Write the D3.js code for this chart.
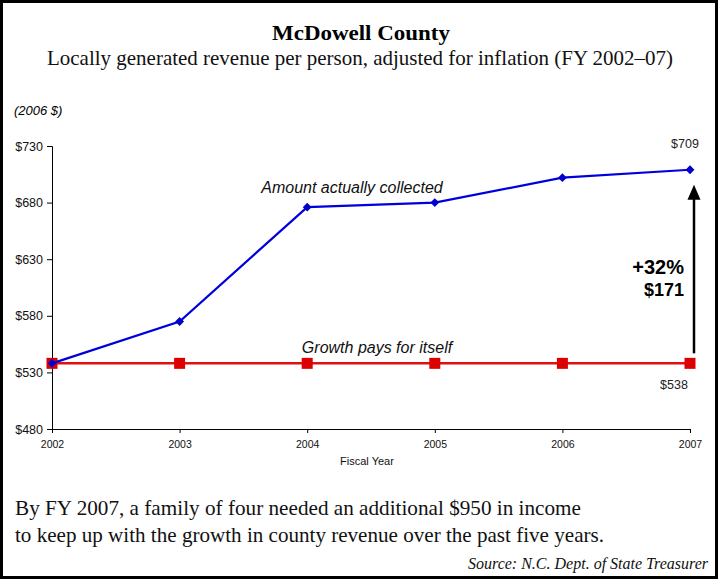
<!DOCTYPE html>
<html><head><meta charset="utf-8">
<script src="https://cdn.jsdelivr.net/npm/d3@7"></script>
<style>body{margin:0;background:#fff}svg{display:block}</style>
</head><body>
<script>
const years = [2002, 2003, 2004, 2005, 2006, 2007];
const collected = [538, 575, 676, 680, 702, 709];
const baseline = [538, 538, 538, 538, 538, 538];
const yTicks = [480, 530, 580, 630, 680, 730];

const W = 723, H = 580;
const svg = d3.select("body").append("svg").attr("width", W).attr("height", H);
svg.append("rect").attr("x", 1.5).attr("y", 1.5).attr("width", 715).attr("height", 576)
  .attr("fill", "#fff").attr("stroke", "#000").attr("stroke-width", 3);

const x = d3.scaleLinear().domain([2002, 2007]).range([52, 690]);
const y = d3.scaleLinear().domain([480, 730]).range([429, 146]);

const serif = "'Liberation Serif', 'Times New Roman', serif";
const sans = "'Liberation Sans', Arial, sans-serif";

svg.append("text").attr("x", 361).attr("y", 40).attr("text-anchor", "middle")
  .attr("font-family", serif).attr("font-weight", "bold").attr("font-size", 22)
  .attr("textLength", 178).attr("lengthAdjust", "spacingAndGlyphs").text("McDowell County");
svg.append("text").attr("x", 360).attr("y", 65).attr("text-anchor", "middle")
  .attr("font-family", serif).attr("font-size", 21).attr("fill", "#111")
  .attr("textLength", 626).attr("lengthAdjust", "spacingAndGlyphs")
  .text("Locally generated revenue per person, adjusted for inflation (FY 2002\u201307)");
svg.append("text").attr("x", 14).attr("y", 115).attr("font-family", sans).attr("font-style", "italic")
  .attr("font-size", 13).text("(2006 $)");

// axes
const yAxis = d3.axisLeft(y).tickValues(yTicks).tickSize(5).tickFormat(d => "$" + d);
const gy = svg.append("g").attr("transform", "translate(52,0)").call(yAxis);
gy.select(".domain").attr("stroke", "#000").attr("d", "M-5,146.5H0.5V429.5");
gy.selectAll("text").attr("font-family", sans).attr("font-size", 12.5).attr("fill", "#111").attr("x", -9);

const xAxis = d3.axisBottom(x).tickValues(years).tickSize(4).tickFormat(d3.format("d"));
const gx = svg.append("g").attr("transform", "translate(0,429)").call(xAxis);
gx.select(".domain").attr("d", "M52,0.5H690.5V4");
gx.selectAll("text").attr("font-family", sans).attr("font-size", 10.5).attr("fill", "#111")
  .attr("y", 19).attr("dy", 0);

svg.append("text").attr("x", 367).attr("y", 465).attr("text-anchor", "middle")
  .attr("font-family", sans).attr("font-size", 11).attr("fill", "#111").text("Fiscal Year");

// lines
const line = d3.line().x((d, i) => x(years[i])).y(d => y(d));
svg.append("path").datum(baseline).attr("d", line).attr("fill", "none")
  .attr("stroke", "#e01010").attr("stroke-width", 2.5);
svg.selectAll(".sq").data(baseline).enter().append("rect")
  .attr("x", (d, i) => x(years[i]) - 5.5).attr("y", d => y(d) - 5.5)
  .attr("width", 11).attr("height", 11).attr("fill", "#dd0000");

svg.append("path").datum(collected).attr("d", line).attr("fill", "none")
  .attr("stroke", "#0000dd").attr("stroke-width", 2.2);
svg.selectAll(".dm").data(collected).enter().append("path")
  .attr("d", d3.symbol().type(d3.symbolDiamond2).size(50))
  .attr("transform", (d, i) => `translate(${x(years[i])},${y(d)})`)
  .attr("fill", "#0000cc");

// annotations
svg.append("text").attr("x", 352).attr("y", 193).attr("text-anchor", "middle")
  .attr("font-family", sans).attr("font-style", "italic").attr("font-size", 16).attr("fill", "#111")
  .text("Amount actually collected");
svg.append("text").attr("x", 377).attr("y", 353).attr("text-anchor", "middle")
  .attr("font-family", sans).attr("font-style", "italic").attr("font-size", 16).attr("fill", "#111")
  .text("Growth pays for itself");
svg.append("text").attr("x", x(2007) - 5).attr("y", y(collected[5]) - 22).attr("text-anchor", "middle")
  .attr("font-family", sans).attr("font-size", 12.5).attr("fill", "#222").text("$" + collected[5]);
svg.append("text").attr("x", x(2007) - 16).attr("y", y(baseline[5]) + 26).attr("text-anchor", "middle")
  .attr("font-family", sans).attr("font-size", 12.5).attr("fill", "#222").text("$" + baseline[5]);
svg.append("text").attr("x", 684).attr("y", 274).attr("text-anchor", "end")
  .attr("font-family", sans).attr("font-weight", "bold").attr("font-size", 20).attr("fill", "#000").text("+32%");
svg.append("text").attr("x", 684).attr("y", 296).attr("text-anchor", "end")
  .attr("font-family", sans).attr("font-weight", "bold").attr("font-size", 18).attr("fill", "#000").text("$171");

// arrow
const ax = 694, yTop = y(collected[5]) + 15, yBot = y(baseline[5]) - 10;
svg.append("line").attr("x1", ax).attr("x2", ax).attr("y1", yTop + 12).attr("y2", yBot)
  .attr("stroke", "#000").attr("stroke-width", 2.5);
svg.append("path").attr("d", `M${ax},${yTop} L${ax - 6.5},${yTop + 15} L${ax + 6.5},${yTop + 15} Z`).attr("fill", "#000");

// bottom text
svg.append("text").attr("x", 15).attr("y", 515).attr("font-family", serif).attr("font-size", 21).attr("fill", "#111")
  .attr("textLength", 566).attr("lengthAdjust", "spacingAndGlyphs")
  .text("By FY 2007, a family of four needed an additional $950 in income");
svg.append("text").attr("x", 15).attr("y", 542).attr("font-family", serif).attr("font-size", 21).attr("fill", "#111")
  .attr("textLength", 589).attr("lengthAdjust", "spacingAndGlyphs")
  .text("to keep up with the growth in county revenue over the past five years.");
svg.append("text").attr("x", 708).attr("y", 569).attr("text-anchor", "end").attr("font-family", serif)
  .attr("font-style", "italic").attr("font-size", 16).attr("fill", "#111").text("Source: N.C. Dept. of State Treasurer");
</script>
</body></html>
